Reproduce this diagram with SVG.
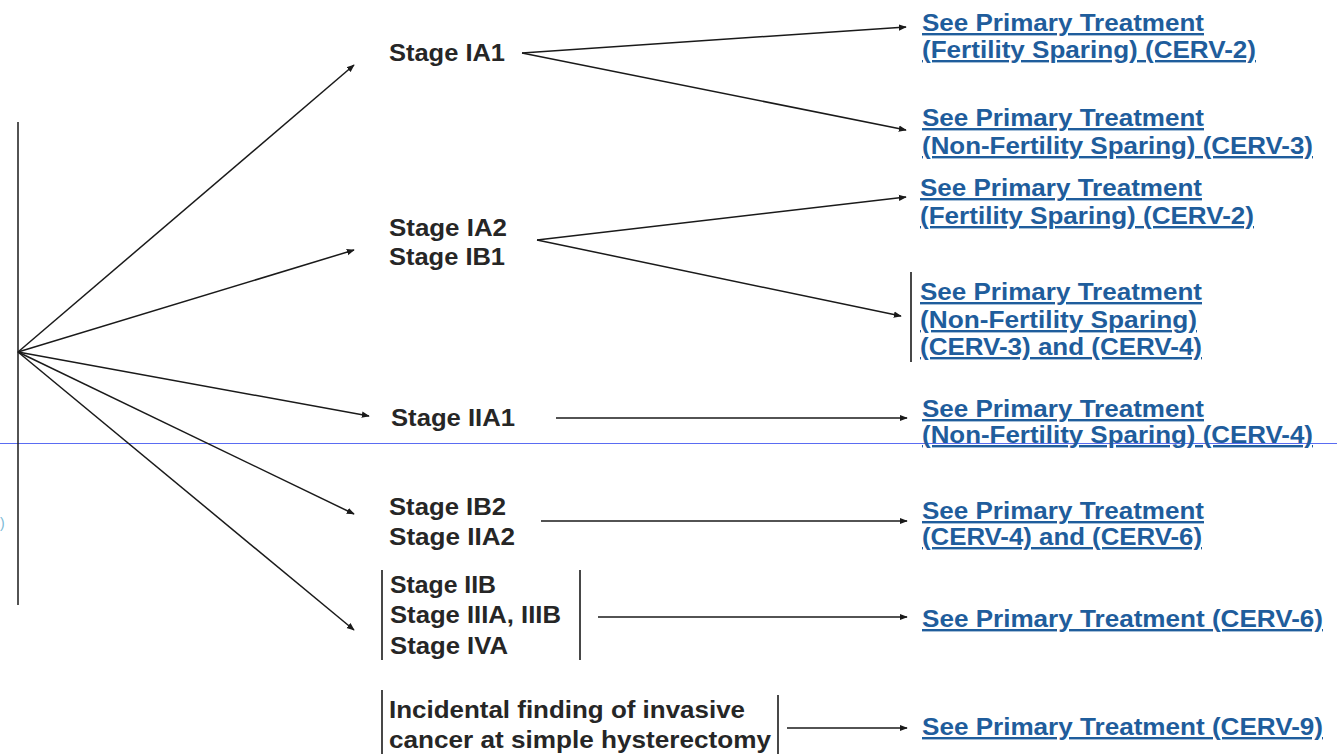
<svg xmlns="http://www.w3.org/2000/svg" width="1337" height="754" viewBox="0 0 1337 754">
<style>
.st{font-family:"Liberation Sans",Arial,sans-serif;font-weight:bold;font-size:24px;fill:#262626}
.lk{font-family:"Liberation Sans",Arial,sans-serif;font-weight:bold;font-size:24px;fill:#1f5d9c;text-decoration:underline}
.c{stroke:#1a1a1a;stroke-width:1.5;fill:none}
.ca{stroke:#1a1a1a;stroke-width:1.5;fill:none;marker-end:url(#ah)}
.bar{stroke:#1a1a1a;stroke-width:1.6}
</style>
<defs>
<marker id="ah" viewBox="0 0 10 10" refX="9" refY="5" markerWidth="8" markerHeight="8" markerUnits="userSpaceOnUse" orient="auto">
<path d="M0,1 L10,5 L0,9 z" fill="#1a1a1a"/>
</marker>
</defs>
<rect width="1337" height="754" fill="#ffffff"/>
<rect x="0" y="443" width="1337" height="1" fill="#5a6cf2"/>
<text x="0" y="528" font-family="Liberation Sans,sans-serif" font-size="14" fill="#7ab8d4">)</text>
<g id="connectors">
<line class="c" x1="18" y1="122" x2="18" y2="605"/>
<line class="ca" x1="18" y1="352" x2="354" y2="65"/>
<line class="ca" x1="18" y1="352" x2="354" y2="250"/>
<line class="ca" x1="18" y1="352" x2="369" y2="416"/>
<line class="ca" x1="18" y1="352" x2="354" y2="514"/>
<line class="ca" x1="18" y1="352" x2="354" y2="630"/>
<line class="ca" x1="522" y1="53" x2="906" y2="27"/>
<line class="ca" x1="522" y1="53" x2="906" y2="130"/>
<line class="ca" x1="537" y1="240" x2="906" y2="197"/>
<line class="ca" x1="537" y1="240" x2="901" y2="316"/>
<line class="ca" x1="556" y1="418" x2="907" y2="418"/>
<line class="ca" x1="541" y1="521" x2="907" y2="521"/>
<line class="ca" x1="598" y1="617" x2="907" y2="617"/>
<line class="ca" x1="787" y1="728" x2="907" y2="728"/>
</g>
<g id="n-ia1"><text class="st" x="389" y="61" textLength="116" lengthAdjust="spacingAndGlyphs">Stage IA1</text></g>
<g id="n-ia2"><text class="st" x="389" y="236" textLength="118" lengthAdjust="spacingAndGlyphs">Stage IA2</text><text class="st" x="389" y="265" textLength="116" lengthAdjust="spacingAndGlyphs">Stage IB1</text></g>
<g id="n-iia1"><text class="st" x="391" y="426" textLength="124" lengthAdjust="spacingAndGlyphs">Stage IIA1</text></g>
<g id="n-ib2"><text class="st" x="389" y="515" textLength="117" lengthAdjust="spacingAndGlyphs">Stage IB2</text><text class="st" x="389" y="545" textLength="126" lengthAdjust="spacingAndGlyphs">Stage IIA2</text></g>
<g id="n-iib">
<line class="bar" x1="382" y1="570" x2="382" y2="660"/>
<line class="bar" x1="580" y1="570" x2="580" y2="660"/>
<text class="st" x="390" y="593" textLength="106" lengthAdjust="spacingAndGlyphs">Stage IIB</text>
<text class="st" x="390" y="623" textLength="171" lengthAdjust="spacingAndGlyphs">Stage IIIA, IIIB</text>
<text class="st" x="390" y="654" textLength="118" lengthAdjust="spacingAndGlyphs">Stage IVA</text>
</g>
<g id="n-incidental">
<line class="bar" x1="382" y1="690" x2="382" y2="754"/>
<line class="bar" x1="778" y1="695" x2="778" y2="754"/>
<text class="st" x="389" y="718" textLength="356" lengthAdjust="spacingAndGlyphs">Incidental finding of invasive</text>
<text class="st" x="389" y="748" textLength="382" lengthAdjust="spacingAndGlyphs">cancer at simple hysterectomy</text>
</g>
<g id="t-cerv2a"><text class="lk" x="922" y="31" textLength="282" lengthAdjust="spacingAndGlyphs">See Primary Treatment</text><text class="lk" x="922" y="58" textLength="334" lengthAdjust="spacingAndGlyphs">(Fertility Sparing) (CERV-2)</text></g>
<g id="t-cerv3a"><text class="lk" x="922" y="126" textLength="282" lengthAdjust="spacingAndGlyphs">See Primary Treatment</text><text class="lk" x="922" y="154" textLength="391" lengthAdjust="spacingAndGlyphs">(Non-Fertility Sparing) (CERV-3)</text></g>
<g id="t-cerv2b"><text class="lk" x="920" y="196" textLength="282" lengthAdjust="spacingAndGlyphs">See Primary Treatment</text><text class="lk" x="920" y="224" textLength="334" lengthAdjust="spacingAndGlyphs">(Fertility Sparing) (CERV-2)</text></g>
<g id="t-cerv34">
<line class="bar" x1="911" y1="272" x2="911" y2="362"/>
<text class="lk" x="920" y="300" textLength="282" lengthAdjust="spacingAndGlyphs">See Primary Treatment</text>
<text class="lk" x="920" y="328" textLength="277" lengthAdjust="spacingAndGlyphs">(Non-Fertility Sparing)</text>
<text class="lk" x="920" y="355" textLength="282" lengthAdjust="spacingAndGlyphs">(CERV-3) and (CERV-4)</text>
</g>
<g id="t-cerv4"><text class="lk" x="922" y="417" textLength="282" lengthAdjust="spacingAndGlyphs">See Primary Treatment</text><text class="lk" x="922" y="443" textLength="391" lengthAdjust="spacingAndGlyphs">(Non-Fertility Sparing) (CERV-4)</text></g>
<g id="t-cerv46"><text class="lk" x="922" y="519" textLength="282" lengthAdjust="spacingAndGlyphs">See Primary Treatment</text><text class="lk" x="922" y="545" textLength="280" lengthAdjust="spacingAndGlyphs">(CERV-4) and (CERV-6)</text></g>
<g id="t-cerv6"><text class="lk" x="922" y="627" textLength="401" lengthAdjust="spacingAndGlyphs">See Primary Treatment (CERV-6)</text></g>
<g id="t-cerv9"><text class="lk" x="922" y="735" textLength="401" lengthAdjust="spacingAndGlyphs">See Primary Treatment (CERV-9)</text></g>
</svg>
